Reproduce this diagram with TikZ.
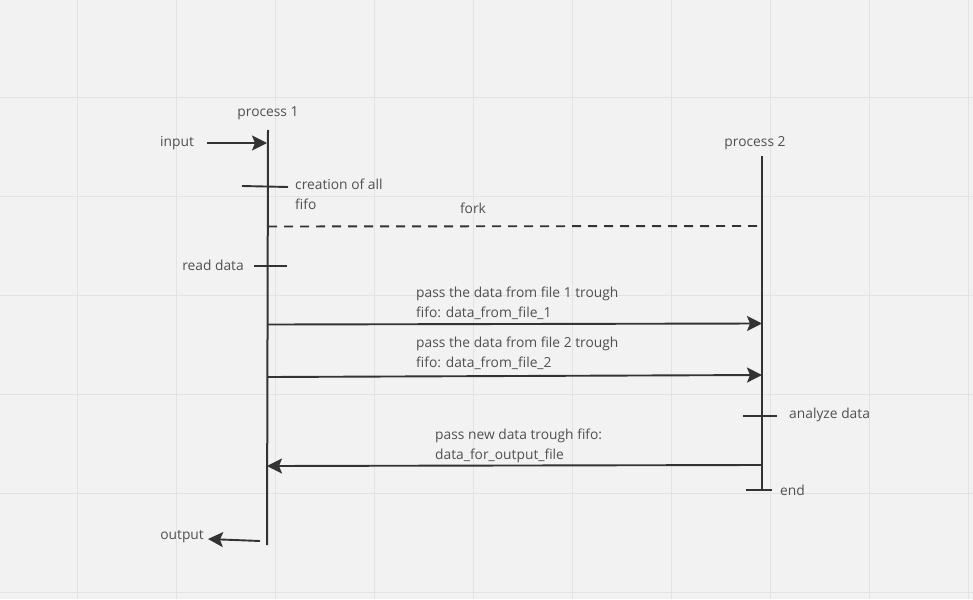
\documentclass[tikz,border=0pt]{standalone}
\usepackage{fontspec}
\setmainfont{Open Sans}
\usetikzlibrary{arrows.meta}
\definecolor{bg}{HTML}{F2F2F2}
\definecolor{gridc}{HTML}{E3E3E3}
\definecolor{ink}{HTML}{333333}
\definecolor{txt}{HTML}{505050}
\tikzset{
  lbl/.style={text=txt, font=\fontsize{13.8}{20}\selectfont, inner sep=0pt},
  lbll/.style={lbl, anchor=west, align=left},
  life/.style={draw=ink, line width=2pt},
  tick/.style={draw=ink, line width=1.9pt},
  msg/.style={draw=ink, line width=1.9pt, -{Stealth[length=15pt,width=15pt,inset=3pt]}},
}
\begin{document}
\begin{tikzpicture}[x=1pt,y=-1pt]
\fill[bg] (0,0) rectangle (973,599);
\useasboundingbox (0,0) rectangle (973,599);
\foreach \x in {77,176,275,374,473,572,671,770,869,968}
  \draw[gridc, line width=0.8pt] (\x,0) -- (\x,599);
\foreach \y in {97,196,295,394,493,592}
  \draw[gridc, line width=0.8pt] (0,\y) -- (973,\y);

% headers
\node[lbl] (p1) at (268,113) {process 1};
\node[lbl] (p2) at (755,143) {process 2};

% lifelines
\coordinate (l1t) at (268,130);
\coordinate (l1b) at (267,545);
\coordinate (l2t) at (762,156);
\coordinate (l2b) at (762,491);
\draw[life] (l1t) -- (l1b);
\draw[life] (l2t) -- (l2b);

% input
\node[lbl, anchor=west] (in) at (160,143) {input};
\coordinate (inS) at (207,143);
\coordinate (inE) at (267,143);
\draw[msg] (inS) -- (inE);

% creation of fifo
\coordinate (c1) at (242,186);
\coordinate (c2) at (288,187);
\draw[tick] (c1) -- (c2);
\node[lbll] (cre) at (295,194) {creation of all\\fifo};

% fork
\coordinate (f1) at (268,226.5);
\coordinate (f2) at (762,226);
\draw[draw=ink, line width=1.9pt, dash pattern=on 9pt off 7pt] (f1) -- (f2);
\node[lbl] (fork) at (473,208) {fork};

% read data
\node[lbl, anchor=east] (rd) at (244,265) {read data};
\coordinate (r1) at (254,266);
\coordinate (r2) at (287,266);
\draw[tick] (r1) -- (r2);

% message 1
\coordinate (m1s) at (268,324.5);
\coordinate (m1e) at (762,323.5);
\draw[msg] (m1s) -- (m1e);
\node[lbll] (t1) at (416,303) {pass the data from file 1 trough\\fifo: data\_from\_file\_1};

% message 2
\coordinate (m2s) at (268,377);
\coordinate (m2e) at (762,375);
\draw[msg] (m2s) -- (m2e);
\node[lbll] (t2) at (416,353) {pass the data from file 2 trough\\fifo: data\_from\_file\_2};

% analyze data
\coordinate (a1) at (743,416);
\coordinate (a2) at (777,416);
\draw[tick] (a1) -- (a2);
\node[lbll] (an) at (789,415) {analyze data};

% message 3
\coordinate (m3s) at (762,465);
\coordinate (m3e) at (267,466);
\draw[msg] (m3s) -- (m3e);
\node[lbll] (t3) at (435,445.5) {pass new data trough fifo:\\data\_for\_output\_file};

% end
\coordinate (e1) at (746,490);
\coordinate (e2) at (772,490);
\draw[tick] (e1) -- (e2);
\node[lbll] (end) at (780,490) {end};

% output
\node[lbl, anchor=east] (out) at (204,537) {output};
\coordinate (oS) at (260,541);
\coordinate (oE) at (208,539);
\draw[msg] (oS) -- (oE);
\end{tikzpicture}
\end{document}
